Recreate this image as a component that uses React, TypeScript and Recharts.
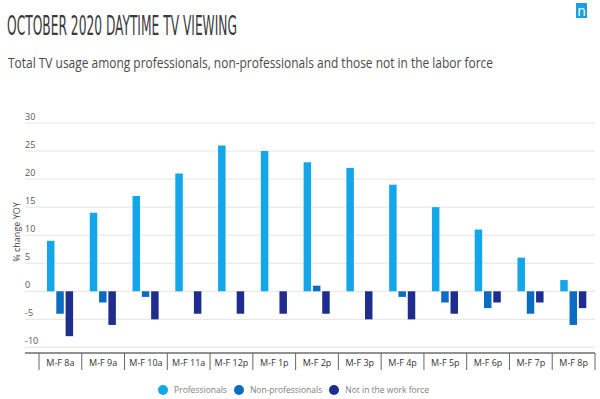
import { BarChart, Bar, XAxis, YAxis, CartesianGrid, Legend } from 'recharts';

const slots = [
  'M-F 8a',
  'M-F 9a',
  'M-F 10a',
  'M-F 11a',
  'M-F 12p',
  'M-F 1p',
  'M-F 2p',
  'M-F 3p',
  'M-F 4p',
  'M-F 5p',
  'M-F 6p',
  'M-F 7p',
  'M-F 8p',
];
const seriesNames = ['Professionals', 'Non-professionals', 'Not in the work force'];
const professionals = [9, 14, 17, 21, 26, 25, 23, 22, 19, 15, 11, 6, 2];
const nonProfessionals = [-4, -2, -1, 0, 0, 0, 1, 0, -1, -2, -3, -4, -6];
const notInWorkForce = [-8, -6, -5, -4, -4, -4, -4, -5, -5, -4, -2, -2, -3];
const yTicks = [-10, -5, 0, 5, 10, 15, 20, 25, 30];

const data = slots.map((slot, i) => ({
  slot,
  pro: professionals[i],
  nonPro: nonProfessionals[i],
  notWork: notInWorkForce[i],
}));

const XTick = (props: any) => {
  const { x, y, payload, index } = props;
  const half = payload.offset ?? 21.4;
  return (
    <g>
      <line x1={x - half} x2={x - half} y1={y} y2={y + 17} stroke="#666" />
      {index === slots.length - 1 && (
        <line x1={x + half} x2={x + half} y1={y} y2={y + 17} stroke="#666" />
      )}
      <text x={x} y={y + 13} textAnchor="middle" fontSize={9} fill="#333">
        {payload.value}
      </text>
    </g>
  );
};

const YTick = (props: any) => {
  const { x, y, payload } = props;
  return (
    <text x={x} y={y - 3} textAnchor="start" fontSize={9} fill="#555">
      {payload.value}
    </text>
  );
};

const YLabel = (props: any) => {
  const { viewBox } = props;
  const cx = viewBox.x + viewBox.width / 2;
  const cy = viewBox.y + viewBox.height / 2 - 6;
  return (
    <text
      x={cx}
      y={cy}
      transform={`rotate(-90, ${cx}, ${cy})`}
      textAnchor="middle"
      dominantBaseline="central"
      fontSize={9}
      fill="#444"
    >
      % change YOY
    </text>
  );
};

const renderLegend = (props: any) => {
  const items = [...(props.payload || [])].sort(
    (a: any, b: any) => seriesNames.indexOf(a.value) - seriesNames.indexOf(b.value)
  );
  return (
    <div
      style={{
        display: 'flex',
        justifyContent: 'center',
        alignItems: 'center',
        height: 16,
        fontSize: 8.5,
        lineHeight: '16px',
        color: '#808080',
        paddingRight: 6,
      }}
    >
      {items.map((item: any) => (
        <div
          key={item.value}
          style={{ display: 'flex', alignItems: 'center', marginRight: 7 }}
        >
          <span
            style={{
              display: 'inline-block',
              width: 10,
              height: 10,
              borderRadius: 5,
              background: item.color,
              marginRight: 6,
            }}
          />
          <span>{item.value}</span>
        </div>
      ))}
    </div>
  );
};

const App = () => {
  return (
    <div
      style={{
        position: 'relative',
        width: 600,
        height: 399,
        overflow: 'hidden',
        fontFamily: '"Open Sans", sans-serif',
        background: '#fff',
      }}
    >
      <style>{'html, body { margin: 0; padding: 0; overflow: hidden; }'}</style>
      <svg
        width={600}
        height={80}
        style={{ position: 'absolute', left: 0, top: 0 }}
      >
        <text
          x={7}
          y={35}
          fontSize={27}
          fontFamily='"DejaVu Sans Condensed", sans-serif'
          fill="#3b3b3b"
          textLength={230}
          lengthAdjust="spacingAndGlyphs"
        >
          OCTOBER 2020 DAYTIME TV VIEWING
        </text>
        <text
          x={8}
          y={68}
          fontSize={14}
          fontFamily='"Open Sans", sans-serif'
          fill="#4a4a4a"
          textLength={485}
          lengthAdjust="spacingAndGlyphs"
        >
          Total TV usage among professionals, non-professionals and those not in the labor force
        </text>
        <rect x={576} y={3} width={11} height={15} fill="#1b9fe2" />
        <text x={581.5} y={15.5} fontSize={14} fill="#fff" textAnchor="middle">
          n
        </text>
      </svg>
      <div style={{ position: 'absolute', left: 0, top: 0 }}>
        <BarChart
          width={600}
          height={399}
          data={data}
          margin={{ top: 123, right: 5, left: 8, bottom: 0 }}
          barSize={7.5}
          barGap={1.8}
        >
          <CartesianGrid vertical={false} stroke="#e4e4e4" />
          <XAxis
            dataKey="slot"
            interval={0}
            height={30}
            tickSize={0}
            tickMargin={0}
            tickLine={false}
            axisLine={{ stroke: '#333' }}
            padding={{ left: 14, right: 0 }}
            tick={<XTick />}
          />
          <YAxis
            width={17}
            domain={[-11, 30]}
            ticks={yTicks}
            tickSize={0}
            tickMargin={0}
            tickLine={false}
            axisLine={false}
            tick={<YTick />}
            label={<YLabel />}
          />
          <Legend
            verticalAlign="bottom"
            height={16}
            content={renderLegend}
            wrapperStyle={{ top: 382, bottom: 'auto', left: 0, width: 600, height: 16 }}
          />
          <Bar dataKey="pro" name={seriesNames[0]} fill="#14a6ea" isAnimationActive={false} />
          <Bar dataKey="nonPro" name={seriesNames[1]} fill="#0b6cc3" isAnimationActive={false} />
          <Bar dataKey="notWork" name={seriesNames[2]} fill="#1f2e8e" isAnimationActive={false} />
        </BarChart>
      </div>
    </div>
  );
};

export default App;
